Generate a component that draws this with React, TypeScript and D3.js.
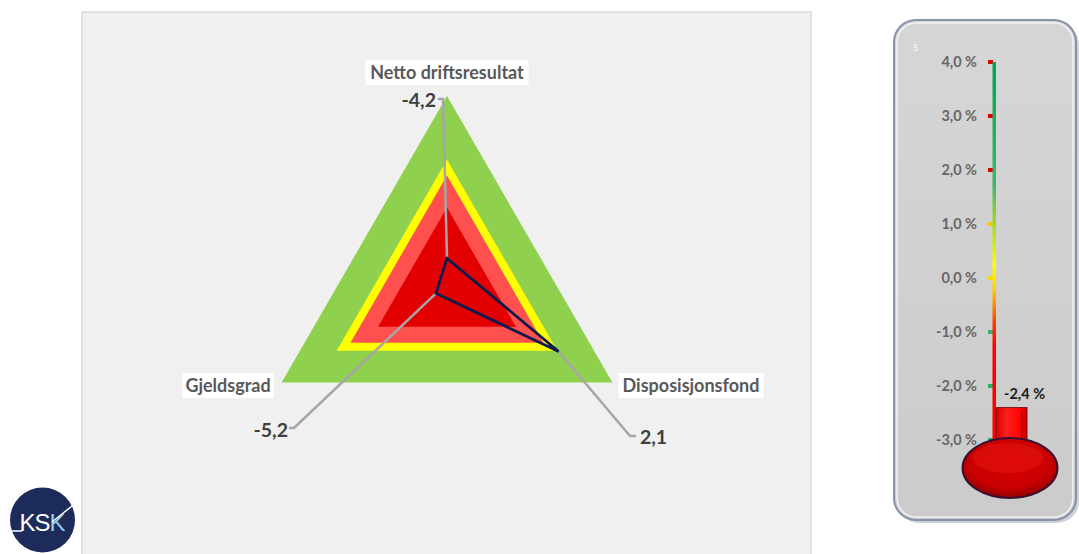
import * as d3 from 'd3'

// radar categories (clockwise from top) and values
const categories = ['Netto driftsresultat', 'Disposisjonsfond', 'Gjeldsgrad']
const values = [-4.2, 2.1, -5.2]
const valueLabels = ['-4,2', '2,1', '-5,2']

// background bands (same value on every axis)
const bandValues = [6, 2, 1, -1]
const bandColors = ['#8fd14f', '#ffff00', '#ff5050', '#e30000']

// thermometer
const thermoTicks = [4, 3, 2, 1, 0, -1, -2, -3]
const thermoTickLabels = ['4,0 %', '3,0 %', '2,0 %', '1,0 %', '0,0 %', '-1,0 %', '-2,0 %', '-3,0 %']
const thermoTickColors = ['#e00000', '#e00000', '#e00000', '#f2c800', '#f2e000', '#3cb371', '#22b060', '#22b060']
const thermoValue = -2.4
const thermoLabel = '-2,4 %'

const W = 1079
const H = 554
const font = 'Lato, "Open Sans", sans-serif'

export default function App() {
  const cx = 447
  const cy = 287
  const r = d3.scaleLinear().domain([-6, 6]).range([0, 191])
  const angle = (i: number) => (i * 2 * Math.PI) / categories.length
  const pt = (i: number, v: number): [number, number] => [
    cx + r(v) * Math.sin(angle(i)),
    cy - r(v) * Math.cos(angle(i)),
  ]

  const radial = d3
    .lineRadial<number>()
    .angle((_, i) => angle(i))
    .radius(d => r(d))
    .curve(d3.curveLinearClosed)

  // label layout for each category
  const catLabelPos = [
    { x: 447, y: 79, w: 163 },
    { x: 691, y: 392, w: 145 },
    { x: 228, y: 392, w: 91 },
  ]
  const valPos = [
    { lx: 443, ly: 99, tx: 436, ty: 107, anchor: 'end' },
    { lx: 630, ly: 436, tx: 640, ty: 444, anchor: 'start' },
    { lx: 294, ly: 428, tx: 288, ty: 437, anchor: 'end' },
  ]

  // thermometer scale
  const ty = d3.scaleLinear().domain([-3, 4]).range([440, 62])
  const tubeX = 994
  const bulb = { x: 1010, y: 468, rx: 47.5, ry: 30 }

  return (
    <svg
      width={W}
      height={H}
      style={{ position: 'absolute', left: 0, top: 0, background: '#fff' }}
      fontFamily={font}
    >
      <defs>
        <linearGradient id="tube" x1="0" y1={ty(4)} x2="0" y2={bulb.y} gradientUnits="userSpaceOnUse">
          <stop offset="0" stopColor="#00a651" />
          <stop offset="0.3" stopColor="#3cb86a" />
          <stop offset="0.42" stopColor="#b6e01c" />
          <stop offset="0.5" stopColor="#ffff00" />
          <stop offset="0.56" stopColor="#ffd000" />
          <stop offset="0.64" stopColor="#ff4000" />
          <stop offset="0.7" stopColor="#ff0000" />
          <stop offset="1" stopColor="#ff0000" />
        </linearGradient>
        <linearGradient id="bar" x1="0" y1="0" x2="1" y2="0">
          <stop offset="0" stopColor="#d80000" />
          <stop offset="0.35" stopColor="#ff2020" />
          <stop offset="0.8" stopColor="#ff0000" />
          <stop offset="1" stopColor="#c00000" />
        </linearGradient>
        <radialGradient id="bulb" cx="0.5" cy="0.4" r="0.62">
          <stop offset="0" stopColor="#d80000" />
          <stop offset="0.7" stopColor="#c80000" />
          <stop offset="1" stopColor="#8a0000" />
        </radialGradient>
        <linearGradient id="frame" x1="0" y1="0" x2="0" y2="1">
          <stop offset="0" stopColor="#d6d6d6" />
          <stop offset="1" stopColor="#cbcbcb" />
        </linearGradient>
      </defs>

      {/* radar panel */}
      <rect x={82} y={12} width={729} height={548} fill="#f0f0f0" stroke="#dadada" strokeWidth={1.5} />

      <g transform={`translate(${cx},${cy})`}>
        {bandValues.map((v, k) => (
          <path key={k} d={radial(categories.map(() => v)) || ''} fill={bandColors[k]} />
        ))}
      </g>

      {/* leader lines */}
      {values.map((v, i) => {
        const [px, py] = pt(i, v)
        const p = valPos[i]
        const tickX = p.anchor === 'end' ? p.lx - 5 : p.lx + 6
        return (
          <polyline
            key={i}
            points={`${px},${py} ${p.lx},${p.ly} ${tickX},${p.ly}`}
            fill="none"
            stroke="#a6a6a6"
            strokeWidth={2.5}
          />
        )
      })}

      <g transform={`translate(${cx},${cy})`}>
        <path d={radial(values) || ''} fill="none" stroke="#0f1a4d" strokeWidth={2.8} strokeLinejoin="miter" />
      </g>

      {/* value labels */}
      {valueLabels.map((t, i) => (
        <text
          key={i}
          x={valPos[i].tx}
          y={valPos[i].ty}
          textAnchor={valPos[i].anchor}
          fontSize={19.5}
          fontWeight={700}
          fill="#404040"
        >
          {t}
        </text>
      ))}

      {/* category labels */}
      {categories.map((c, i) => {
        const p = catLabelPos[i]
        return (
          <g key={c}>
            <rect x={p.x - p.w / 2} y={p.y - 19} width={p.w} height={25} fill="#fff" />
            <text x={p.x} y={p.y} textAnchor="middle" fontSize={18} fontWeight={700} fill="#595959">
              {c}
            </text>
          </g>
        )
      })}

      {/* logo */}
      <circle cx={42.5} cy={520} r={32.5} fill="#1d2b5b" />
      <path d="M12 531 L22 531" stroke="#fff" strokeWidth={1.5} />
      <text x={42} y={531} textAnchor="middle" fontSize={24} fill="#fff" fontFamily="'Liberation Sans', sans-serif" letterSpacing={-1}>
        KS<tspan fill="#8fcbe9">K</tspan>
      </text>
      <path d="M52 522 L72 506" stroke="#fff" strokeWidth={1.5} />

      {/* thermometer frame */}
      <rect x={897} y={23} width={182} height={500} rx={22} fill="#9aa3b5" opacity={0.5} />
      <rect x={894} y={20} width={182} height={500} rx={22} fill="url(#frame)" stroke="#8793a8" strokeWidth={2} />
      <rect x={897} y={23} width={176} height={494} rx={19} fill="none" stroke="#f2f2f2" strokeWidth={1.5} />
      <text x={913} y={51} fontSize={13} fill="#f4f4f4">s</text>

      {thermoTicks.map((t, i) => (
        <g key={t}>
          <text x={977} y={ty(t) + 5} textAnchor="end" fontSize={14.5} fontWeight={700} fill="#666666">
            {thermoTickLabels[i]}
          </text>
          <rect x={988} y={ty(t) - 2} width={5} height={4} fill={thermoTickColors[i]} />
        </g>
      ))}

      <rect x={tubeX - 1.5} y={ty(4)} width={3.5} height={bulb.y - ty(4)} fill="url(#tube)" />

      {/* value bar */}
      <rect
        x={996}
        y={ty(thermoValue)}
        width={31}
        height={bulb.y - ty(thermoValue)}
        fill="url(#bar)"
        stroke="#7a1010"
        strokeWidth={1}
      />
      <line x1={1022} x2={1022} y1={ty(thermoValue) + 4} y2={bulb.y - 20} stroke="#a00000" strokeWidth={1.2} />
      <text x={1004} y={ty(thermoValue) - 9} fontSize={14.5} fontWeight={700} fill="#1a1a1a">
        {thermoLabel}
      </text>

      {/* bulb */}
      <ellipse cx={bulb.x} cy={bulb.y} rx={bulb.rx} ry={bulb.ry} fill="url(#bulb)" stroke="#3a1030" strokeWidth={2} />
      <ellipse cx={bulb.x - 2} cy={bulb.y - 10} rx={bulb.rx - 12} ry={bulb.ry - 15} fill="#ff2a2a" opacity={0.25} />
    </svg>
  )
}
